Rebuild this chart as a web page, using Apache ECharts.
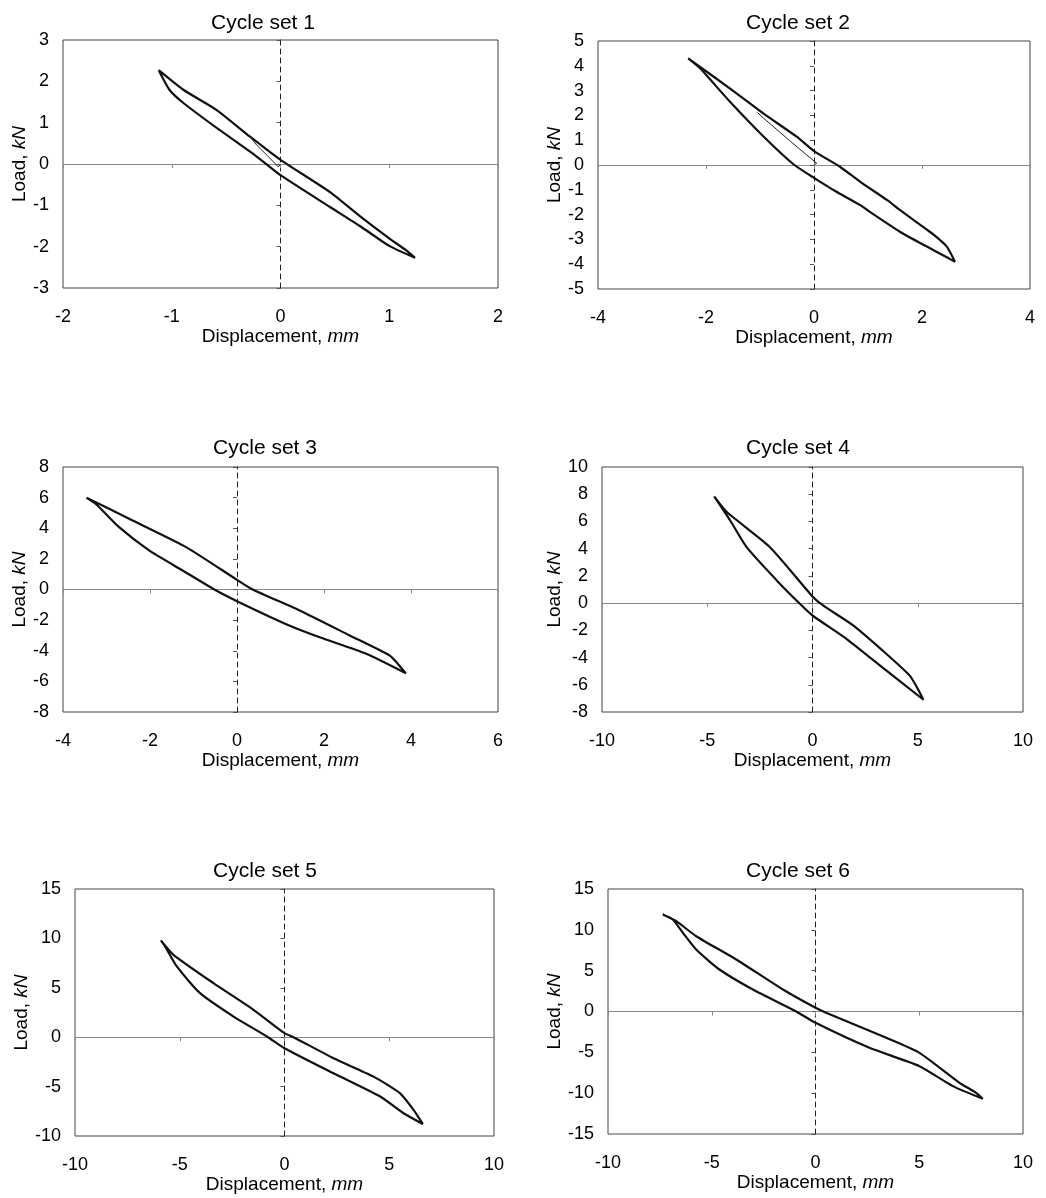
<!DOCTYPE html>
<html>
<head>
<meta charset="utf-8">
<script src="https://cdn.jsdelivr.net/npm/echarts@6/dist/echarts.min.js"></script>
<style>
html,body{margin:0;padding:0;background:#fff;}
#c{width:1046px;height:1198px;}
</style>
</head>
<body>
<div id="c"></div>
<script>
// ---- data ----
const titles = ['Cycle set 1','Cycle set 2','Cycle set 3','Cycle set 4','Cycle set 5','Cycle set 6'];
const xRanges = [[-2,2,1],[-4,4,2],[-4,6,2],[-10,10,5],[-10,10,5],[-10,10,5]];
const yRanges = [[-3,3,1],[-5,5,1],[-8,8,2],[-8,10,2],[-10,15,5],[-15,15,5]];

const loop1 = [[-1.12,2.27],[-0.89,1.79],[-0.59,1.31],[-0.28,0.66],[0,0.10],[0.455,-0.68],[0.73,-1.26],[1.0,-1.80],[1.15,-2.08],[1.237,-2.27],
  [1.0,-1.98],[0.73,-1.50],[0.455,-1.04],[0,-0.27],[-0.16,0.06],[-0.28,0.30],[-0.59,0.88],[-0.89,1.47],[-1.02,1.79],[-1.12,2.27]];
const init1 = [[0,0],[-0.02,-0.07],[-0.12,0.20],[-0.22,0.46],[-0.28,0.66]];

const loop2 = [[-2.33,4.30],[-1.56,3.09],[-0.94,2.08],[-0.32,1.14],[0,0.56],[0.48,-0.07],[0.85,-0.67],[1.35,-1.41],[1.59,-1.81],[2.09,-2.61],[2.21,-2.80],[2.46,-3.29],[2.61,-3.90],
  [2.46,-3.72],[2.09,-3.29],[1.59,-2.69],[1.04,-1.90],[0.85,-1.61],[0.4,-1.06],[0,-0.52],[-0.38,0.03],[-0.94,1.16],[-1.56,2.56],[-2.11,3.90],[-2.33,4.30]];
const init2 = [[0,0],[0.05,0.07],[-0.45,0.98],[-0.94,1.90],[-1.05,2.12]];

const loop3 = [[-3.46,5.99],[-2.40,4.51],[-1.17,2.77],[0,0.63],[0.36,0],[1.44,-1.37],[2.59,-3.0],[3.51,-4.31],[3.7,-4.86],[3.88,-5.47],
  [2.97,-4.2],[1.9,-3.12],[1.2,-2.35],[0,-0.76],[-0.52,0],[-1.25,1.24],[-2.02,2.55],[-2.71,4.07],[-3.25,5.6],[-3.46,5.99]];

const loop4 = [[-4.67,7.84],[-4.07,6.69],[-2.02,4.11],[0,0.49],[0.5,-0.17],[1.93,-1.64],[3.5,-3.72],[4.61,-5.31],[5.0,-6.29],[5.27,-7.1],
  [3.5,-4.95],[1.61,-2.62],[0,-0.91],[-0.6,-0.05],[-1.7,1.67],[-3.13,4.11],[-3.91,6.07],[-4.67,7.84]];

const loop5 = [[-5.9,9.8],[-5.3,8.34],[-3.39,5.47],[-1.48,2.77],[0,0.41],[0.43,0],[2.34,-2.13],[4.25,-3.99],[5.52,-5.68],[6.16,-7.36],[6.6,-8.78],
  [5.68,-7.7],[4.57,-6.01],[2.34,-3.65],[0,-1.11],[-0.84,0.07],[-2.43,2.09],[-4.03,4.46],[-5.14,7.16],[-5.7,9.19],[-5.9,9.8]];

const loop6 = [[-7.36,11.88],[-6.71,11.06],[-5.75,9.22],[-3.82,6.37],[-1.57,2.69],[0,0.45],[0.51,-0.16],[3.41,-3.22],[5.01,-5.06],[6.94,-8.73],[7.74,-9.96],[8.06,-10.69],
  [6.62,-9.14],[5.01,-6.69],[2.6,-4.45],[0,-1.39],[-0.93,0],[-3.02,2.69],[-4.63,5.14],[-5.75,7.59],[-6.39,9.63],[-6.88,11.27],[-7.36,11.88]];

const loops = [loop1, loop2, loop3, loop4, loop5, loop6];
const inits = [init1, init2, null, null, null, null];

// ---- layout ----
const grids = [
  {left:63, top:40, width:435, height:248},
  {left:598, top:41, width:432, height:248},
  {left:63, top:467, width:435, height:245},
  {left:602, top:467, width:421, height:245},
  {left:75, top:889, width:419, height:247},
  {left:608, top:889, width:415, height:245}
];
const titlePos = [[263,13],[798,13],[265,438],[798,438],[265,861],[798,861]];

const FONT = '"Liberation Sans", Arial, sans-serif';
const option = {animation:false, backgroundColor:'#fff', title:[], grid:[], xAxis:[], yAxis:[], series:[]};

for (let p = 0; p < 6; p++) {
  const g = grids[p];
  option.grid.push({left:g.left, top:g.top, width:g.width, height:g.height, show:true,
    borderColor:'#444', borderWidth:1, backgroundColor:'#fff', containLabel:false});
  option.title.push({text:titles[p], left:titlePos[p][0], top:titlePos[p][1], textAlign:'center', padding:0,
    textStyle:{fontFamily:FONT, fontSize:21, fontWeight:'normal', color:'#000'}});
  const [xmn,xmx,xi] = xRanges[p];
  const [ymn,ymx,yi] = yRanges[p];
  // label axes
  option.xAxis.push({type:'value', gridIndex:p, position:'bottom', min:xmn, max:xmx, interval:xi,
    axisLine:{show:false, onZero:false}, axisTick:{show:false}, splitLine:{show:false},
    axisLabel:{margin:20, fontSize:18, color:'#000', fontFamily:FONT},
    name:'Displacement, {i|mm}', nameLocation:'middle', nameGap:39,
    nameTextStyle:{fontFamily:FONT, fontSize:19, color:'#000', rich:{i:{fontStyle:'italic', fontFamily:FONT, fontSize:19, color:'#000'}}}});
  option.yAxis.push({type:'value', gridIndex:p, position:'left', min:ymn, max:ymx, interval:yi,
    axisLine:{show:false, onZero:false}, axisTick:{show:false}, splitLine:{show:false},
    axisLabel:{margin:14, fontSize:18, color:'#000', fontFamily:FONT},
    name:'Load, {i|kN}', nameLocation:'middle', nameGap:33,
    nameTextStyle:{fontFamily:FONT, fontSize:19, color:'#000', rich:{i:{fontStyle:'italic', fontFamily:FONT, fontSize:19, color:'#000'}}}});
  // zero-line axes
  option.xAxis.push({type:'value', gridIndex:p, position:'bottom', min:xmn, max:xmx, interval:xi,
    axisLine:{show:true, onZero:true, onZeroAxisIndex:2*p+1, lineStyle:{color:'#8a8a8a', width:1}},
    axisTick:{show:true, length:4, lineStyle:{color:'#8a8a8a'}}, axisLabel:{show:false}, splitLine:{show:false}});
  option.yAxis.push({type:'value', gridIndex:p, position:'left', min:ymn, max:ymx, interval:yi,
    axisLine:{show:true, onZero:true, onZeroAxisIndex:2*p+1, lineStyle:{color:'#222', width:1, type:[5,4]}},
    axisTick:{show:true, length:4, lineStyle:{color:'#555'}}, axisLabel:{show:false}, splitLine:{show:false}});

  option.series.push({type:'line', xAxisIndex:2*p, yAxisIndex:2*p, data:loops[p], showSymbol:false, symbol:'none',
    smooth:0.2, lineStyle:{color:'#111', width:2.2}, z:5});
  if (inits[p]) {
    option.series.push({type:'line', xAxisIndex:2*p, yAxisIndex:2*p, data:inits[p], showSymbol:false, symbol:'none',
      lineStyle:{color:'#222', width:1}, z:4});
  }
}

const chart = echarts.init(document.getElementById('c'), null, {renderer:'canvas'});
chart.setOption(option);
</script>
</body>
</html>
